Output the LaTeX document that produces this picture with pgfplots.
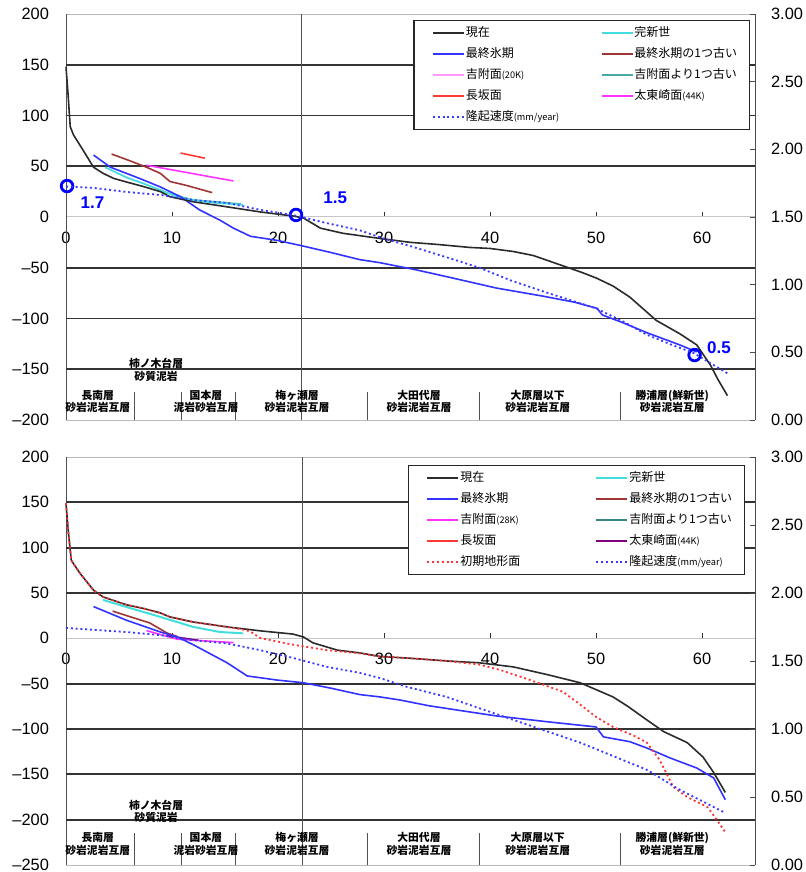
\documentclass[border=0pt]{standalone}
\usepackage{fontspec}
\setmainfont{Liberation Sans}
\newfontfamily\jp{Noto Sans CJK JP}
\usepackage{pgfplots}
\pgfplotsset{compat=1.18}

\definecolor{cNow}{HTML}{2B2B2B}
\definecolor{cHolo}{HTML}{44DDDD}
\definecolor{cLGM}{HTML}{3333FF}
\definecolor{cLGMold}{HTML}{A03535}
\definecolor{cYoshiT}{HTML}{FF99FF}
\definecolor{cYoshiB}{HTML}{FF33FF}
\definecolor{cYoshiOld}{HTML}{44AAAA}
\definecolor{cNaga}{HTML}{FF3838}
\definecolor{cTaitoT}{HTML}{FF33FF}
\definecolor{cTaitoB}{HTML}{800080}
\definecolor{cUp}{HTML}{3A3AFF}
\definecolor{cInit}{HTML}{FF3333}
\definecolor{gridc}{HTML}{505050}
\definecolor{circ}{HTML}{0000FF}

\newcommand{\LA}[1]{\makebox[67pt][l]{#1}}
\newcommand{\LB}[1]{\makebox[48pt][l]{#1}}
\newcommand{\sm}[1]{{\fontsize{4.6}{5}\selectfont #1}}
\newcommand{\geo}{\jp\bfseries\fontsize{5.4}{6.3}\selectfont}

\pgfplotsset{
  base/.style={scale only axis, width=344.5pt, xmin=0, xmax=65, clip=false,
    /pgf/number format/assume math mode=true,
    tick label style={font=\fontsize{8.2}{9.5}\selectfont}},
  mainax/.style={base, separate axis lines,
    x axis line style={draw=gray!55}, y axis line style={draw=gridc},
    xtick=\empty, major tick length=0pt,
    yticklabel style={xshift=-5pt},
    extra y tick style={grid=major, major grid style={draw=gray!40!black, line width=0.85pt}},
    extra y tick labels={},
    legend columns=2, legend cell align=left,
    legend style={draw=gray!30!black, line width=0.6pt, fill=white, inner xsep=9pt, inner ysep=1pt,
       font=\jp\fontsize{6}{7}\selectfont,
       nodes={inner xsep=0.5pt, inner ysep=2.35pt, text height=4.6pt, text depth=1.2pt},
       at={(1,1)}, anchor=north east}},
  zeroax/.style={base, axis x line=middle, axis y line=none,
    x axis line style={-, draw=gray!45, line width=0.5pt},
    xtick={0,10,...,60}, xtick style={draw=gray!40!black, line width=0.5pt},
    major tick length=2.5pt, xtick align=inside, hide obscured x ticks=false,
    xticklabel style={yshift=-4pt}},
  rightax/.style={base, axis x line=none, axis y line*=right, ymin=0, ymax=3,
    y axis line style={draw=gray!60!black}, ytick={0,0.5,...,3},
    yticklabel style={/pgf/number format/fixed, /pgf/number format/fixed zerofill,
      /pgf/number format/precision=2, xshift=4.5pt},
    tick align=inside, major tick length=2.5pt, ytick style={draw=gray!60!black}},
}

\begin{document}
\begin{tikzpicture}
\useasboundingbox (0,0) rectangle (403pt,436pt);

%%%%%%%%%%%%%%%%%%%%%%%% TOP %%%%%%%%%%%%%%%%%%%%%%%%
\begin{axis}[zeroax, at={(33pt,226pt)}, anchor=south west, height=203pt, ymin=-200, ymax=200]
\end{axis}

\begin{axis}[mainax, at={(33pt,226pt)}, anchor=south west, height=203pt,
  ymin=-200, ymax=200, ytick={-200,-150,...,200},
  yticklabels={\textendash200,\textendash150,\textendash100,\textendash50,0,50,100,150,200},
  extra y ticks={-150,-100,-50,50,100,150},
  legend style={xshift=-2.5pt, yshift=-3pt},
  legend image code/.code={\draw[#1] (0pt,0pt) -- (15.5pt,0pt);}]

\addlegendimage{cNow, line width=0.8pt}\addlegendentry{\LA{現在}}
\addlegendimage{cHolo, line width=0.8pt}\addlegendentry{\LB{完新世}}
\addlegendimage{cLGM, line width=0.8pt}\addlegendentry{\LA{最終氷期}}
\addlegendimage{cLGMold, line width=0.8pt}\addlegendentry{\LB{最終氷期の1つ古い}}
\addlegendimage{cYoshiT, line width=0.6pt}\addlegendentry{\LA{吉附面\sm{(20K)}}}
\addlegendimage{cYoshiOld, line width=0.6pt}\addlegendentry{\LB{吉附面より1つ古い}}
\addlegendimage{cNaga, line width=0.8pt}\addlegendentry{\LA{長坂面}}
\addlegendimage{cTaitoT, line width=0.8pt}\addlegendentry{\LB{太東崎面\sm{(44K)}}}
\addlegendimage{cUp, line width=0.9pt, dash pattern=on 1pt off 1.4pt}\addlegendentry{\LA{隆起速度\sm{(mm/year)}}}

% boundary line
\addplot[gridc, line width=0.7pt, forget plot] coordinates {(22.2,-200) (22.2,200)};
% geology dividers
\addplot[gridc, line width=0.5pt, forget plot] coordinates {(6.5,-172) (6.5,-200)};
\addplot[gridc, line width=0.5pt, forget plot] coordinates {(10.85,-172) (10.85,-200)};
\addplot[gridc, line width=0.5pt, forget plot] coordinates {(16.0,-172) (16.0,-200)};
\addplot[gridc, line width=0.5pt, forget plot] coordinates {(28.4,-172) (28.4,-200)};
\addplot[gridc, line width=0.5pt, forget plot] coordinates {(39.0,-172) (39.0,-200)};
\addplot[gridc, line width=0.5pt, forget plot] coordinates {(52.3,-172) (52.3,-200)};

% 吉附面より1つ古い
\addplot[cYoshiOld, line width=0.6pt, forget plot] coordinates {(9,25) (12,17) (16.5,13)};
% 完新世
\addplot[cHolo, line width=0.9pt, forget plot] coordinates {
(3.7,49) (5.7,39) (7.3,33) (8.9,26.6) (10.5,20) (12,16.7) (14,14) (16.7,12)};
% 最終氷期の1つ古い
\addplot[cLGMold, line width=0.8pt, forget plot] coordinates {
(4.3,62) (6,55.5) (7.6,49) (8.9,43) (9.8,35) (11.4,31) (13.8,24)};
% 長坂面
\addplot[cNaga, line width=0.8pt, forget plot] coordinates {(10.8,63) (13.1,58)};
% 太東崎面
\addplot[cTaitoT, line width=0.8pt, forget plot] coordinates {(7.6,51) (15.8,35.5)};
% 最終氷期
\addplot[cLGM, line width=0.8pt, forget plot] coordinates {
(2.6,61) (4.2,49) (5.7,43) (7.3,36.5) (8.9,29.6) (10.8,20) (12.6,7) (14.5,-3) (15.8,-11)
(17.4,-19) (19.9,-23) (22.1,-28) (25,-35) (27.7,-42) (29.6,-45) (33,-52) (36,-59) (40.6,-70)
(45,-78) (48,-84) (50.1,-90) (50.6,-96.5) (52.5,-104) (54.8,-114) (57.9,-126) (59.5,-133)};
% 現在
\addplot[cNow, line width=0.8pt, forget plot] coordinates {
(0,148) (0.2,120) (0.4,89) (0.7,81) (1.6,66) (2.6,49) (3.5,43) (4.5,38) (5.7,34.5) (7.3,30)
(8.9,25) (9.8,20) (12,15) (15.2,10) (18.3,5) (21.4,1) (22.4,-1) (24,-11) (26.1,-16) (29.5,-21)
(32.5,-25) (35,-27) (38.1,-30) (40,-31) (42.2,-34) (44.1,-38) (46.3,-46) (48.5,-54) (50,-60)
(51.6,-68) (53.2,-79) (55.7,-102) (57.9,-115) (59.5,-126) (60.8,-146) (61.5,-160) (62.4,-176)};

% circles
\addplot[only marks, mark=o, mark size=2.9pt, draw=circ, line width=1.4pt, forget plot]
 coordinates {(0.1,30.5) (21.7,2) (59.3,-136)};
\node[text=circ, font=\bfseries\fontsize{8.5}{9}\selectfont] at (axis cs:2.5,13.8) {1.7};
\node[text=circ, font=\bfseries\fontsize{8.5}{9}\selectfont] at (axis cs:25.4,18.7) {1.5};
\node[text=circ, font=\bfseries\fontsize{8.5}{9}\selectfont] at (axis cs:61.6,-129) {0.5};

% geology labels
\node[font=\geo, align=center] at (axis cs:8.5,-150.7) {柿ノ木台層\\砂質泥岩};
\node[font=\geo, align=center] at (axis cs:3.0,-181.7) {長南層\\砂岩泥岩互層};
\node[font=\geo, align=center] at (axis cs:13.2,-181.7) {国本層\\泥岩砂岩互層};
\node[font=\geo, align=center] at (axis cs:21.8,-181.7) {梅ヶ瀬層\\砂岩泥岩互層};
\node[font=\geo, align=center] at (axis cs:33.3,-181.7) {大田代層\\砂岩泥岩互層};
\node[font=\geo, align=center] at (axis cs:44.5,-181.7) {大原層以下\\砂岩泥岩互層};
\node[font=\geo, align=center] at (axis cs:57.2,-181.7) {勝浦層(鮮新世)\\砂岩泥岩互層};
\end{axis}

\begin{axis}[rightax, at={(33pt,226pt)}, anchor=south west, height=203pt]
\addplot[cUp, line width=0.9pt, dash pattern=on 1pt off 1.4pt] coordinates {
(0,1.725) (2.6,1.715) (5.7,1.685) (8.9,1.663) (12,1.625) (15.2,1.604) (18.3,1.553) (21.4,1.515)
(24.6,1.455) (27.7,1.402) (30,1.34) (32.7,1.28) (36,1.2) (39,1.125) (42,1.03) (45.4,0.94)
(50,0.825) (52.5,0.73) (54.8,0.63) (57,0.56) (59.2,0.495) (62.4,0.345)};
\end{axis}

%%%%%%%%%%%%%%%%%%%%%%%% BOTTOM %%%%%%%%%%%%%%%%%%%%%%%%
\begin{axis}[zeroax, at={(33pt,3.5pt)}, anchor=south west, height=204pt, ymin=-250, ymax=200]
\end{axis}

\begin{axis}[mainax, at={(33pt,3.5pt)}, anchor=south west, height=204pt,
  ymin=-250, ymax=200, ytick={-250,-200,...,200},
  yticklabels={\textendash250,\textendash200,\textendash150,\textendash100,\textendash50,0,50,100,150,200},
  extra y ticks={-200,-150,-100,-50,50,100,150},
  legend style={xshift=-5pt, yshift=-4pt},
  legend image code/.code={\draw[#1] (0pt,0pt) -- (15.5pt,0pt);}]

\addlegendimage{cNow, line width=0.8pt}\addlegendentry{\LA{現在}}
\addlegendimage{cHolo, line width=0.8pt}\addlegendentry{\LB{完新世}}
\addlegendimage{cLGM, line width=0.8pt}\addlegendentry{\LA{最終氷期}}
\addlegendimage{cLGMold, line width=0.8pt}\addlegendentry{\LB{最終氷期の1つ古い}}
\addlegendimage{cYoshiB, line width=0.8pt}\addlegendentry{\LA{吉附面\sm{(28K)}}}
\addlegendimage{cYoshiOld!80!black, line width=0.8pt}\addlegendentry{\LB{吉附面より1つ古い}}
\addlegendimage{cNaga, line width=1pt}\addlegendentry{\LA{長坂面}}
\addlegendimage{cTaitoB, line width=1pt}\addlegendentry{\LB{太東崎面\sm{(44K)}}}
\addlegendimage{cInit, line width=0.9pt, dash pattern=on 1pt off 1.4pt}\addlegendentry{\LA{初期地形面}}
\addlegendimage{cUp, line width=0.9pt, dash pattern=on 1pt off 1.4pt}\addlegendentry{\LB{隆起速度\sm{(mm/year)}}}

\addplot[gridc, line width=0.7pt, forget plot] coordinates {(22.3,-250) (22.3,200)};
\addplot[gridc, line width=0.5pt, forget plot] coordinates {(6.5,-214.5) (6.5,-250)};
\addplot[gridc, line width=0.5pt, forget plot] coordinates {(10.85,-214.5) (10.85,-250)};
\addplot[gridc, line width=0.5pt, forget plot] coordinates {(16.0,-214.5) (16.0,-250)};
\addplot[gridc, line width=0.5pt, forget plot] coordinates {(28.4,-214.5) (28.4,-250)};
\addplot[gridc, line width=0.5pt, forget plot] coordinates {(39.0,-214.5) (39.0,-250)};
\addplot[gridc, line width=0.5pt, forget plot] coordinates {(52.3,-214.5) (52.3,-250)};

% 完新世
\addplot[cHolo, line width=1pt, forget plot] coordinates {
(3.5,42.3) (5.7,34.6) (8.9,23.6) (12,12.6) (14.5,7) (16.7,5.5)};
% 最終氷期の1つ古い
\addplot[cLGMold, line width=0.8pt, forget plot] coordinates {
(4.4,30) (6,24) (7.9,17) (9.5,6) (10.5,2)};
% 吉附面(28K)
\addplot[cYoshiB, line width=0.8pt, forget plot] coordinates {(7.6,8.5) (10.5,-1) (15.8,-4.7)};
% 太東崎面
\addplot[cTaitoB, line width=0.7pt, forget plot] coordinates {(9.5,3) (12.5,-2)};
% 最終氷期
\addplot[cLGM, line width=0.8pt, forget plot] coordinates {
(2.6,35) (5.7,20) (8.9,7) (10.5,1.5) (12,-7) (15.2,-27) (17.1,-41.5) (19.9,-46) (22.4,-49)
(25,-55) (27.7,-62) (29.6,-64.6) (31.5,-68) (34.3,-74.5) (40.6,-85.6) (45.4,-92) (50,-97.7)
(50.7,-108.7) (53.2,-114) (54.8,-121) (57,-132) (59.5,-143) (61.1,-154) (62.2,-178)};
% 現在
\addplot[cNow, line width=0.8pt, forget plot] coordinates {
(0,149) (0.2,120) (0.5,86) (1.3,72) (2.6,53) (3.5,45.6) (5.7,37) (7.3,33) (8.9,28) (9.8,23.6)
(12,18) (15.2,12.6) (18.3,8.3) (21.4,4.7) (22.4,1.5) (23.3,-5) (25.6,-13) (27.7,-16) (29.6,-20)
(32.5,-22) (36,-25) (39,-27) (42.2,-31.5) (45.4,-40) (48.5,-49) (51.6,-64.6) (53,-75) (54.8,-90)
(56.4,-103) (58.6,-115) (60.1,-131) (61.1,-148) (62.2,-170)};
% 初期地形面
\addplot[cInit, line width=0.9pt, dash pattern=on 1pt off 1.4pt, forget plot] coordinates {
(0,149) (0.2,120) (0.5,86) (1.3,72) (2.6,53) (3.5,45.6) (5.7,37) (7.3,33) (8.9,28) (9.8,23.6)
(12,18) (15.2,12.6) (17,9) (17.6,6) (18.3,0.4) (21.4,-7) (24.6,-13) (27.7,-16.5) (29.6,-20)
(32.5,-22) (36,-25) (39,-29) (41,-35) (43.8,-46) (46.9,-59) (48.5,-73) (50,-86.6) (51.6,-97.7)
(53.5,-107) (54.8,-115) (56,-134) (57.3,-164) (58.6,-175) (60.5,-186) (61.4,-200) (62.2,-214)};

\node[font=\geo, align=center] at (axis cs:8.5,-190.9) {柿ノ木台層\\砂質泥岩};
\node[font=\geo, align=center] at (axis cs:3.0,-226.7) {長南層\\砂岩泥岩互層};
\node[font=\geo, align=center] at (axis cs:13.2,-226.7) {国本層\\泥岩砂岩互層};
\node[font=\geo, align=center] at (axis cs:21.8,-226.7) {梅ヶ瀬層\\砂岩泥岩互層};
\node[font=\geo, align=center] at (axis cs:33.3,-226.7) {大田代層\\砂岩泥岩互層};
\node[font=\geo, align=center] at (axis cs:44.5,-226.7) {大原層以下\\砂岩泥岩互層};
\node[font=\geo, align=center] at (axis cs:57.2,-226.7) {勝浦層(鮮新世)\\砂岩泥岩互層};
\end{axis}

\begin{axis}[rightax, at={(33pt,3.5pt)}, anchor=south west, height=204pt]
\addplot[cUp, line width=0.9pt, dash pattern=on 1pt off 1.4pt] coordinates {
(0,1.743) (5.7,1.713) (8.9,1.69) (12,1.653) (15.2,1.629) (18.3,1.58) (21.4,1.523) (24.6,1.457)
(27.7,1.413) (29.6,1.375) (32.2,1.309) (35.9,1.236) (42.2,1.067) (48.5,0.9) (54.8,0.7)
(57.9,0.553) (62.2,0.383)};
\end{axis}
\end{tikzpicture}
\end{document}
